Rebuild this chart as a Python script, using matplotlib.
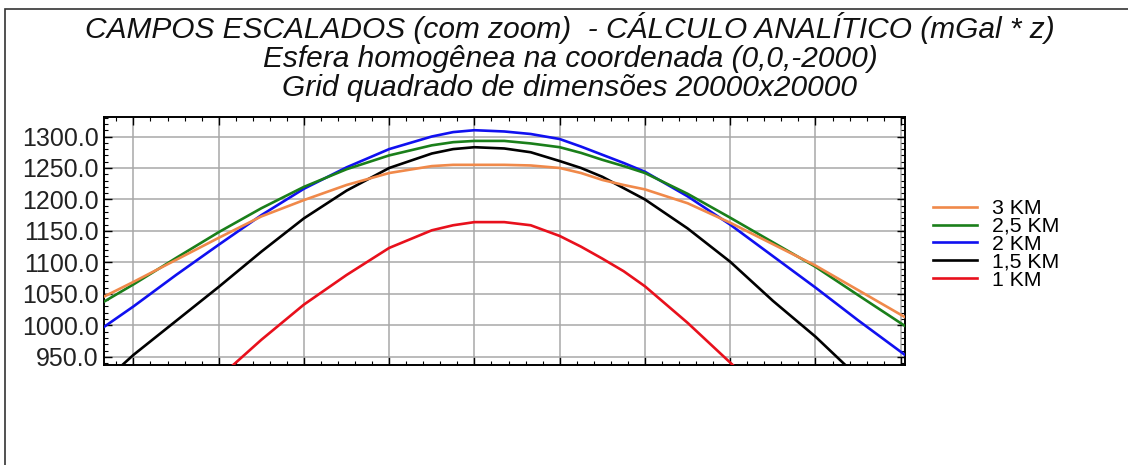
import matplotlib
matplotlib.use("Agg")
import matplotlib.pyplot as plt
from matplotlib.patches import Rectangle
from matplotlib.ticker import MultipleLocator, FormatStrFormatter, NullFormatter

plt.rcParams['font.family'] = ['Liberation Sans', 'DejaVu Sans']

# perfis ao longo do grid (x em unidades de divisao da grade)
x_3km = [-0.34, 0, 0.5, 1, 1.5, 2, 2.5, 3, 3.5, 3.75, 4, 4.35, 4.66, 5, 5.25, 5.5, 5.75, 6, 6.5, 7, 7.5, 8, 8.5, 9.05]
y_3km = [1046, 1069, 1104, 1139, 1173, 1199, 1223, 1242, 1253, 1255, 1255, 1255, 1254, 1250, 1242, 1231, 1223, 1216, 1194, 1163, 1129, 1095, 1056, 1013]

x_25km = [-0.34, 0, 0.5, 1, 1.5, 2, 2.5, 3, 3.5, 3.75, 4, 4.35, 4.66, 5, 5.25, 5.5, 5.75, 6, 6.5, 7, 7.5, 8, 8.5, 9.05]
y_25km = [1038, 1065, 1107, 1148, 1186, 1220, 1248, 1270, 1286, 1291, 1293, 1293, 1289, 1283, 1274, 1263, 1253, 1242, 1209, 1171, 1132, 1093, 1048, 999]

x_2km = [-0.34, 0, 0.5, 1, 1.5, 2, 2.5, 3, 3.5, 3.75, 4, 4.35, 4.66, 5, 5.25, 5.5, 5.75, 6, 6.5, 7, 7.5, 8, 8.5, 9.05]
y_2km = [998, 1030, 1080, 1128, 1175, 1217, 1251, 1280, 1300, 1307, 1310, 1308, 1304, 1296, 1284, 1271, 1258, 1244, 1205, 1160, 1110, 1060, 1008, 953]

x_15km = [-0.13, 0, 0.5, 1, 1.5, 2, 2.5, 3, 3.5, 3.75, 4, 4.35, 4.66, 5, 5.25, 5.5, 5.75, 6, 6.5, 7, 7.5, 8, 8.35]
y_15km = [937, 953, 1007, 1061, 1117, 1170, 1214, 1250, 1273, 1280, 1283, 1281, 1275, 1261, 1250, 1236, 1218, 1200, 1154, 1101, 1039, 982, 937]

x_1km = [1.17, 1.5, 2, 2.5, 3, 3.5, 3.75, 4, 4.35, 4.66, 5, 5.25, 5.5, 5.75, 6, 6.5, 7.03]
y_1km = [937, 977, 1033, 1080, 1123, 1151, 1159, 1164, 1164, 1159, 1142, 1125, 1106, 1086, 1062, 1004, 937]

labels = ["3 KM", "2,5 KM", "2 KM", "1,5 KM", "1 KM"]
cores = ["#f0894a", "#1a7f1a", "#1010f0", "black", "#e8101c"]

fig = plt.figure(figsize=(11.28, 4.65), dpi=100)
ax = fig.add_axes([104 / 1128, 1 - 365 / 465, (905 - 104) / 1128, (365 - 117) / 465])

series = [(x_3km, y_3km), (x_25km, y_25km), (x_2km, y_2km), (x_15km, y_15km), (x_1km, y_1km)]
linhas = []
for i, (xs, ys) in enumerate(series):
    ln, = ax.plot(xs, ys, color=cores[i], lw=1.9, label=labels[i], zorder=10 - i,
                  solid_joinstyle='round')
    linhas.append(ln)

ax.set_xlim(-0.345, 9.05)
ax.set_ylim(937, 1331)

ax.xaxis.set_major_locator(MultipleLocator(1))
ax.xaxis.set_minor_locator(MultipleLocator(0.2))
ax.xaxis.set_major_formatter(NullFormatter())
ax.yaxis.set_major_locator(MultipleLocator(50))
ax.yaxis.set_minor_locator(MultipleLocator(10))
ax.yaxis.set_major_formatter(FormatStrFormatter("%.1f"))
ax.tick_params(which='both', direction='in', top=True, right=True, color='black')
ax.tick_params(which='major', length=6, width=1)
ax.tick_params(which='minor', length=3, width=0.8)
ax.tick_params(axis='y', labelsize=18, pad=4)
for lbl in ax.get_yticklabels():
    lbl.set_color('#222222')

ax.grid(True, which='major', color='#a8a8a8', lw=1.1)
ax.set_axisbelow(True)
for sp in ax.spines.values():
    sp.set_linewidth(1.4)

ax.legend(handles=linhas, loc='upper left', bbox_to_anchor=(933 / 1128, 1 - 199 / 465),
          bbox_transform=fig.transFigure, frameon=False, fontsize=15.3, borderpad=0,
          borderaxespad=0, handlelength=2.05, handletextpad=0.72, labelspacing=-0.05)

titulos = ["CAMPOS ESCALADOS (com zoom)  - CÁLCULO ANALÍTICO (mGal * z)",
           "Esfera homogênea na coordenada (0,0,-2000)",
           "Grid quadrado de dimensões 20000x20000"]
for k, t in enumerate(titulos):
    fig.text(570 / 1128, 1 - (38 + 29 * k) / 465, t, ha='center', va='baseline',
             fontsize=21.5, style='italic', color='#111111')

# moldura externa
fig.patches.append(Rectangle((5 / 1128, -0.1), 1.2, 1.1 - 9.5 / 465, transform=fig.transFigure,
                             fill=False, edgecolor='#333333', lw=1.2))

fig.savefig("out.png", dpi=100)
